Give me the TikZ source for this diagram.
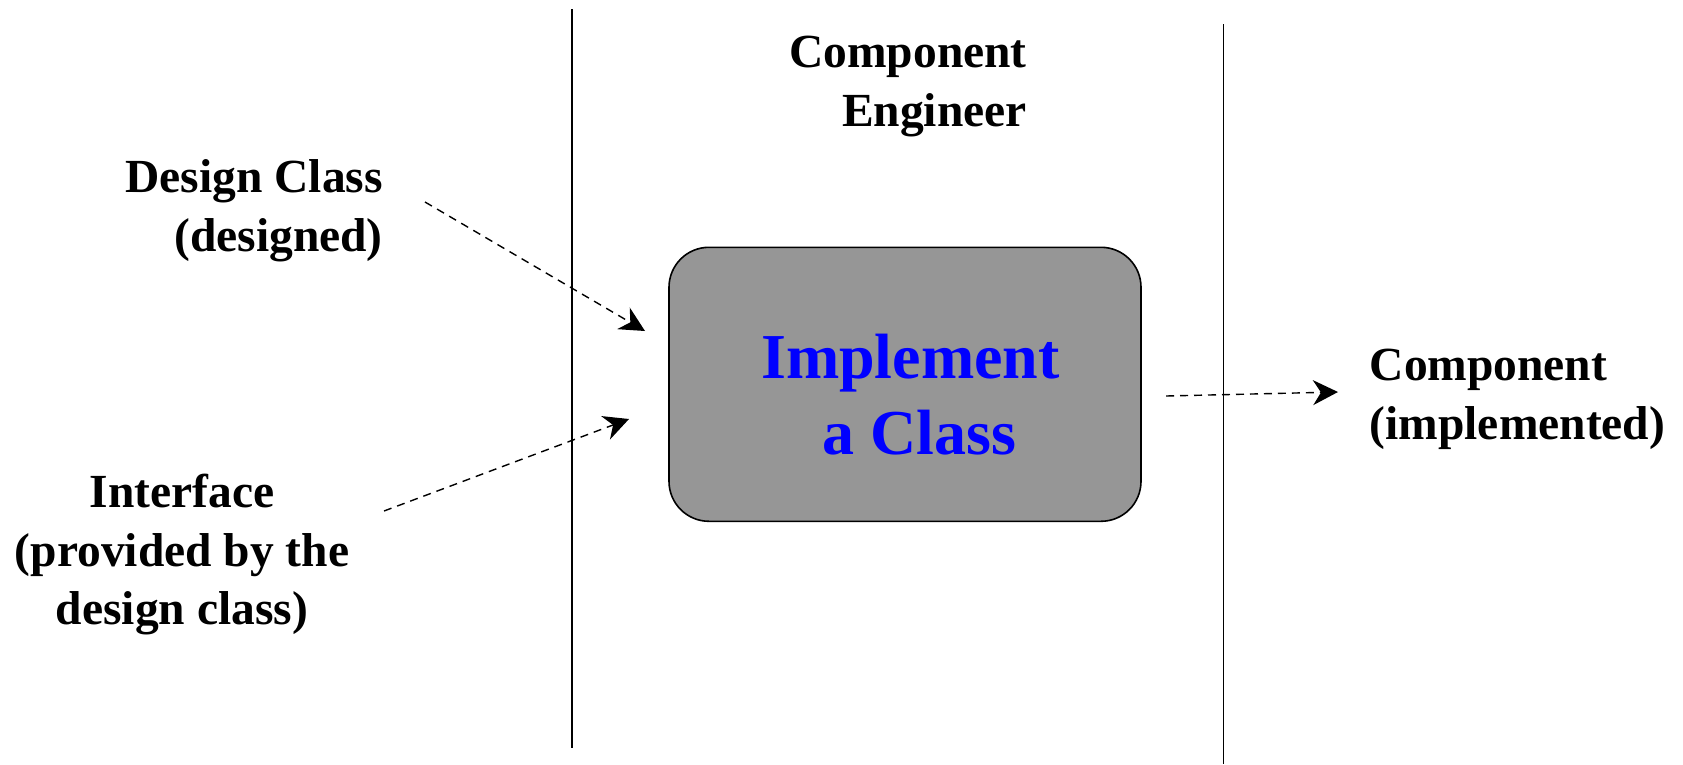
\documentclass[tikz,border=0pt]{standalone}
\usepackage{fontspec}
\setmainfont{Liberation Serif}
\usetikzlibrary{arrows.meta}
\definecolor{boxgray}{HTML}{969696}
\definecolor{txtblue}{HTML}{0000FF}
\tikzset{
  lbl/.style={inner sep=0pt, font=\fontsize{47.5}{58.5}\selectfont\bfseries},
  lane/.style={line width=1.6pt, black},
  flow/.style={dashed, dash pattern=on 8pt off 6pt, line width=1.4pt,
    -{Stealth[length=25pt, width=25pt, inset=8pt]}},
  task/.style={draw=black, line width=1.6pt, fill=boxgray, rounded corners=40pt,
    minimum width=472pt, minimum height=274pt, inner sep=0pt},
  tasktext/.style={inner sep=0pt, text=txtblue, align=center,
    font=\fontsize{64}{76}\selectfont\bfseries}
}
\begin{document}
\begin{tikzpicture}[x=1pt,y=-1pt]
\useasboundingbox (0,0) rectangle (1683,764);
% swimlane separators
\coordinate (l1t) at (572,9);
\coordinate (l1b) at (572,748);
\coordinate (l2t) at (1223.5,24);
\coordinate (l2b) at (1223.5,764);
\draw[lane] (l1t) -- (l1b);
\draw[lane] (l2t) -- (l2b);
% labels
\node[lbl, anchor=east, align=right] (eng) at (1027,86.5) {Component\\Engineer};
\node[lbl, anchor=east, align=right] (dc) at (383,211) {Design Class\\(designed)};
\node[lbl, align=center] (intf) at (182,555) {Interface\\(provided by the\\design class)};
\node[lbl, anchor=west, align=left] (comp) at (1369.5,399.5) {Component\\(implemented)};
% activity
\node[task] (impl) at (905,384.3) {};
\node[tasktext] (impltxt) at (910.5,395) {Implement\\\hspace*{18pt}a Class};
% flows
\coordinate (a1s) at (425,202);
\coordinate (a1e) at (645,331);
\coordinate (a2s) at (384,511);
\coordinate (a2e) at (629,419);
\coordinate (a3s) at (1166,396);
\coordinate (a3e) at (1338,392);
\draw[flow] (a1s) -- (a1e);
\draw[flow] (a2s) -- (a2e);
\draw[flow] (a3s) -- (a3e);
\end{tikzpicture}
\end{document}
